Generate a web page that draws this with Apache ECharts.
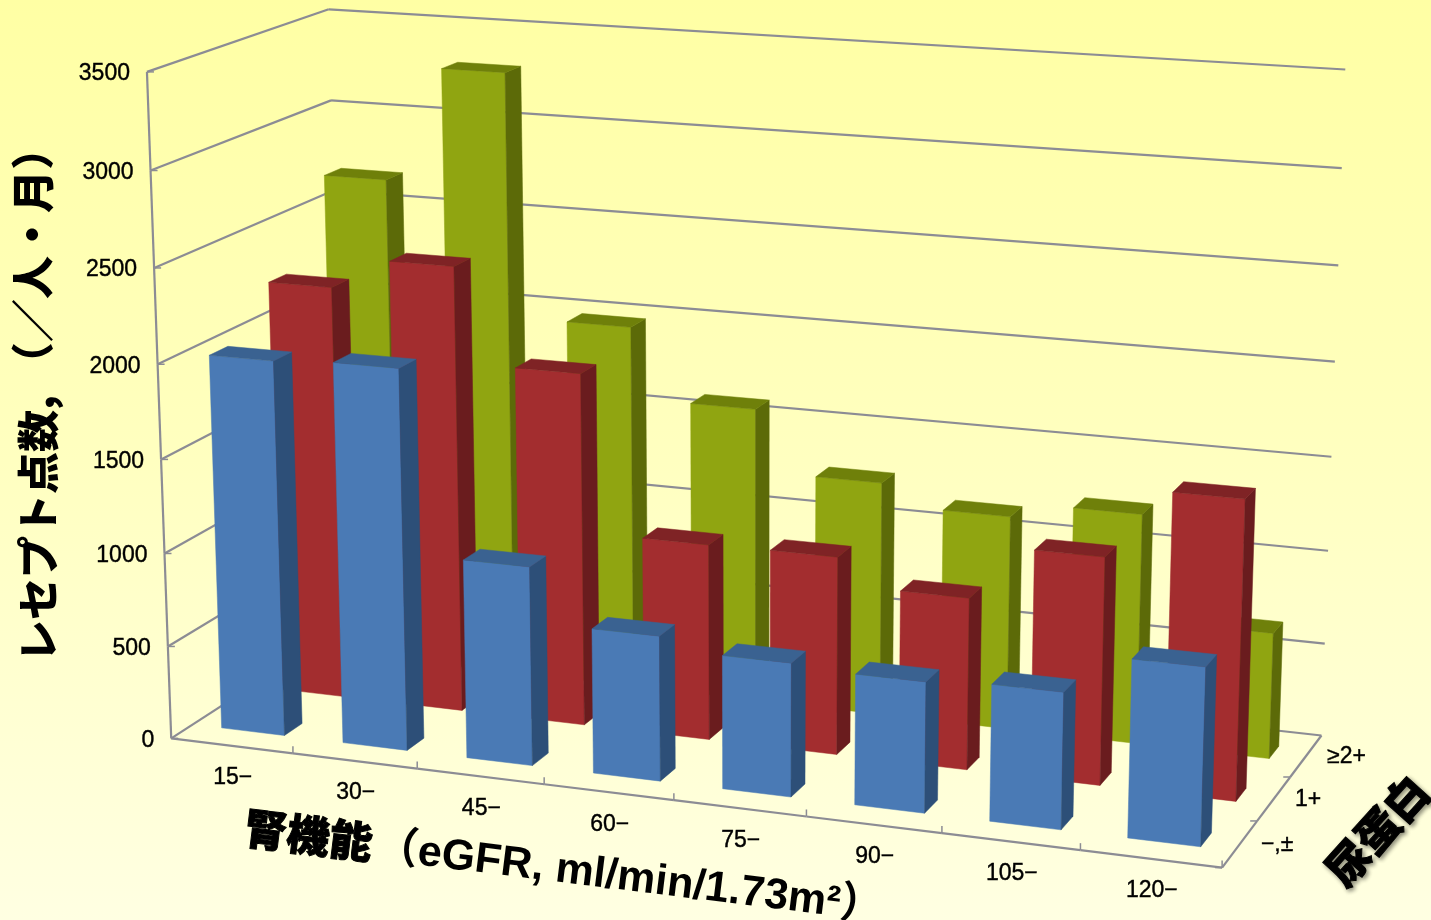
<!DOCTYPE html>
<html>
<head>
<meta charset="utf-8">
<style>html,body{margin:0;padding:0;background:#ffffc8}#chart{width:1431px;height:920px}</style>
<script src="https://cdn.jsdelivr.net/npm/echarts@6/dist/echarts.min.js"></script>
</head>
<body>
<div id="chart"></div>
<script>
// Receipt points per person-month by renal function and proteinuria class.
const egfrLabels = ['15−', '30−', '45−', '60−', '75−', '90−', '105−', '120−'];
const proteinuriaLabels = ['−,±', '1+', '≥2+'];
const valueTicks = [0, 500, 1000, 1500, 2000, 2500, 3000, 3500];
const negative = [2005, 2025, 1055, 765, 700, 680, 705, 910];
const onePlus = [2240, 2405, 1895, 1050, 1055, 910, 1195, 1560];
const twoPlus = [2680, 3300, 1985, 1600, 1265, 1150, 1230, 670];

// Camera calibration: screen positions of the box corners of the 3D plot.
const frontLeftEdge = [[147,72],[151,171],[154,268],[158,364],[161,459],[164,553],[168,646],[171,738]].reverse();
const backRightEdge = [[1345,70],[1342,168],[1338,266],[1335,361],[1332,457],[1329,550],[1325,643],[1320,735]].reverse();
const calibration = [];
valueTicks.forEach(function (v, i) {
  calibration.push([0, v / 3500, 0, frontLeftEdge[i][0], frontLeftEdge[i][1]]);
  calibration.push([8, v / 3500, 3, backRightEdge[i][0], backRightEdge[i][1]]);
});
calibration.push([8, 0, 0, 1222, 869]);
calibration.push([0, 0, 3, 345, 628]);
calibration.push([0, 1, 3, 328, 9]);

function solveCamera(samples) {
  const n = 11, a = [], b = [];
  for (let i = 0; i < n; i++) { a.push(new Array(n).fill(0)); b.push(0); }
  function add(row, rhs) {
    for (let i = 0; i < n; i++) {
      b[i] += row[i] * rhs;
      for (let j = 0; j < n; j++) a[i][j] += row[i] * row[j];
    }
  }
  samples.forEach(function (s) {
    const X = s[0], Y = s[1], Z = s[2], u = s[3], w = s[4];
    add([X, Y, Z, 1, 0, 0, 0, 0, -u * X, -u * Y, -u * Z], u);
    add([0, 0, 0, 0, X, Y, Z, 1, -w * X, -w * Y, -w * Z], w);
  });
  for (let c = 0; c < n; c++) {
    let p = c;
    for (let r = c + 1; r < n; r++) if (Math.abs(a[r][c]) > Math.abs(a[p][c])) p = r;
    [a[c], a[p]] = [a[p], a[c]]; [b[c], b[p]] = [b[p], b[c]];
    for (let r = 0; r < n; r++) {
      if (r === c) continue;
      const f = a[r][c] / a[c][c];
      for (let k = c; k < n; k++) a[r][k] -= f * a[c][k];
      b[r] -= f * b[c];
    }
  }
  return b.map(function (v, i) { return v / a[i][i]; });
}
const cam = solveCamera(calibration);

// Projects category position x, normalised value y and depth z onto the screen.
function project(x, y, z) {
  const d = cam[8] * x + cam[9] * y + cam[10] * z + 1;
  return [(cam[0] * x + cam[1] * y + cam[2] * z + cam[3]) / d,
          (cam[4] * x + cam[5] * y + cam[6] * z + cam[7]) / d];
}

const barGapX = 0.24, barGapZ = 0.35, barDepth = 0.3;

function face(points, fill) {
  return { type: 'polygon', shape: { points: points }, style: { fill: fill, stroke: fill, lineWidth: 0.5 } };
}
function barRenderer(row, colors) {
  return function (params, api) {
    const origin = api.coord([0, 0]);
    const pos = api.coord([api.value(0), api.value(1)]);
    const cat = api.value(0);
    const h = (origin[1] - pos[1]) / api.size([0, 3500])[1];
    const x0 = cat + barGapX, x1 = cat + 1 - barGapX;
    const z0 = row + barGapZ, z1 = z0 + barDepth;
    const a = project(x0, 0, z0), b = project(x1, 0, z0), c = project(x1, 0, z1);
    const d = project(x0, h, z0), e = project(x1, h, z0), f = project(x1, h, z1), g = project(x0, h, z1);
    return { type: 'group', children: [
      face([a, b, e, d], colors[0]),
      face([b, c, f, e], colors[1]),
      face([d, e, f, g], colors[2])
    ] };
  };
}

const frameColor = '#8c8c94';
function seg(p, q, w) {
  return { type: 'line', shape: { x1: p[0], y1: p[1], x2: q[0], y2: q[1] }, style: { stroke: frameColor, lineWidth: w || 2.2 } };
}
function label(text, x, y, font, extra) {
  return { type: 'text', x: x, y: y, style: Object.assign({ text: text, fill: '#000', stroke: '#000', lineWidth: 0.4, font: font, textAlign: 'center', textVerticalAlign: 'middle' }, extra || {}) };
}
const tickFont = '23px "Liberation Sans", sans-serif';

function renderValueTick(params, api) {
  const h = api.value(1) / 3500;
  const fl = project(0, h, 0), bl = project(0, h, 3), br = project(8, h, 3);
  const kids = [seg(fl, bl), seg(bl, br), seg(fl, [fl[0] + 7, fl[1]], 1.5)];
  if (params.dataIndex > 0) kids.push(seg(project(0, (api.value(1) - 500) / 3500, 0), fl));
  kids.push(label(String(api.value(1)), fl[0] - 17, fl[1] + 2, tickFont, { textAlign: 'right' }));
  return { type: 'group', children: kids };
}
function renderCategoryTick(params, api) {
  const i = api.value(0);
  const t = project(i + 1, 0, 0), m = project(i + 0.5, 0, 0), s = project(i, 0, 0);
  return { type: 'group', children: [
    seg(s, t), seg(t, [t[0], t[1] - 7], 1.5),
    label(egfrLabels[i], m[0] + 1, m[1] + 32, tickFont)
  ] };
}
function renderDepthTick(params, api) {
  const k = api.value(0);
  const s = project(8, 0, k), t = project(8, 0, k + 1), m = project(8, 0, k + 0.5);
  return { type: 'group', children: [
    seg(s, t), seg(s, [s[0] - 7, s[1]], 1.5),
    label(proteinuriaLabels[k], m[0] + 21, m[1] + 1, tickFont, { textAlign: 'left' })
  ] };
}

const series = [
  { type: 'custom', coordinateSystem: 'cartesian2d', silent: true, renderItem: renderValueTick,
    data: valueTicks.map(function (v) { return [0, v]; }) },
  { type: 'custom', coordinateSystem: 'cartesian2d', silent: true, renderItem: renderCategoryTick,
    data: egfrLabels.map(function (l, i) { return [i, 0]; }) },
  { type: 'custom', coordinateSystem: 'cartesian2d', silent: true, renderItem: renderDepthTick,
    data: proteinuriaLabels.map(function (l, i) { return [i, 0]; }) }
];
[
  { name: '≥2+', values: twoPlus, row: 2, colors: ['#90a511', '#5c6a08', '#6f800a'] },
  { name: '1+', values: onePlus, row: 1, colors: ['#a32d2f', '#6a1c1e', '#7f2325'] },
  { name: '−,±', values: negative, row: 0, colors: ['#4a7ab5', '#2d4f78', '#3a6291'] }
].forEach(function (s) {
  series.push({ name: s.name, type: 'custom', coordinateSystem: 'cartesian2d', silent: true,
    renderItem: barRenderer(s.row, s.colors),
    encode: { x: 0, y: 1 },
    data: s.values.map(function (v, i) { return [i, v]; }) });
});

const heavy = '900 43px "Noto Sans CJK JP", sans-serif';
const titles = [
  { type: 'text', x: 247, y: 806, rotation: -Math.PI * 7 / 180,
    style: { text: '腎機能', fill: '#000', font: heavy, stroke: '#000', lineWidth: 1 } },
  { type: 'text', x: 378, y: 826, rotation: -Math.PI * 7 / 180,
    style: { text: '（eGFR, ml/min/1.73m²）', fill: '#000', font: 'bold 43px "Liberation Sans", "Noto Sans CJK JP", sans-serif' } },
  { type: 'text', x: 17, y: 662, rotation: Math.PI / 2,
    style: { text: 'レセプト点数,', fill: '#000', font: '900 42px "Noto Sans CJK JP", sans-serif' } },
  { type: 'text', x: 11, y: 385, rotation: Math.PI / 2,
    style: { text: '（／人・月）', fill: '#000', font: heavy } },
  { type: 'text', x: 1318, y: 864, rotation: Math.PI * 48 / 180,
    style: { text: '尿蛋白', fill: '#000', font: heavy, stroke: '#000', lineWidth: 1, textShadowColor: 'rgba(0,0,0,0.45)', textShadowBlur: 4, textShadowOffsetX: 2, textShadowOffsetY: 2 } }
];

const chart = echarts.init(document.getElementById('chart'));
chart.setOption({
  animation: false,
  backgroundColor: new echarts.graphic.LinearGradient(0, 0, 0, 1, [
    { offset: 0, color: '#ffffa4' },
    { offset: 0.5, color: '#ffffc0' },
    { offset: 1, color: '#ffffe2' }
  ]),
  grid: { left: 0, right: 0, top: 0, bottom: 0 },
  xAxis: { type: 'value', min: 0, max: 8, show: false },
  yAxis: { type: 'value', min: 0, max: 3500, interval: 500, show: false },
  graphic: titles,
  series: series
});
</script>
</body>
</html>
